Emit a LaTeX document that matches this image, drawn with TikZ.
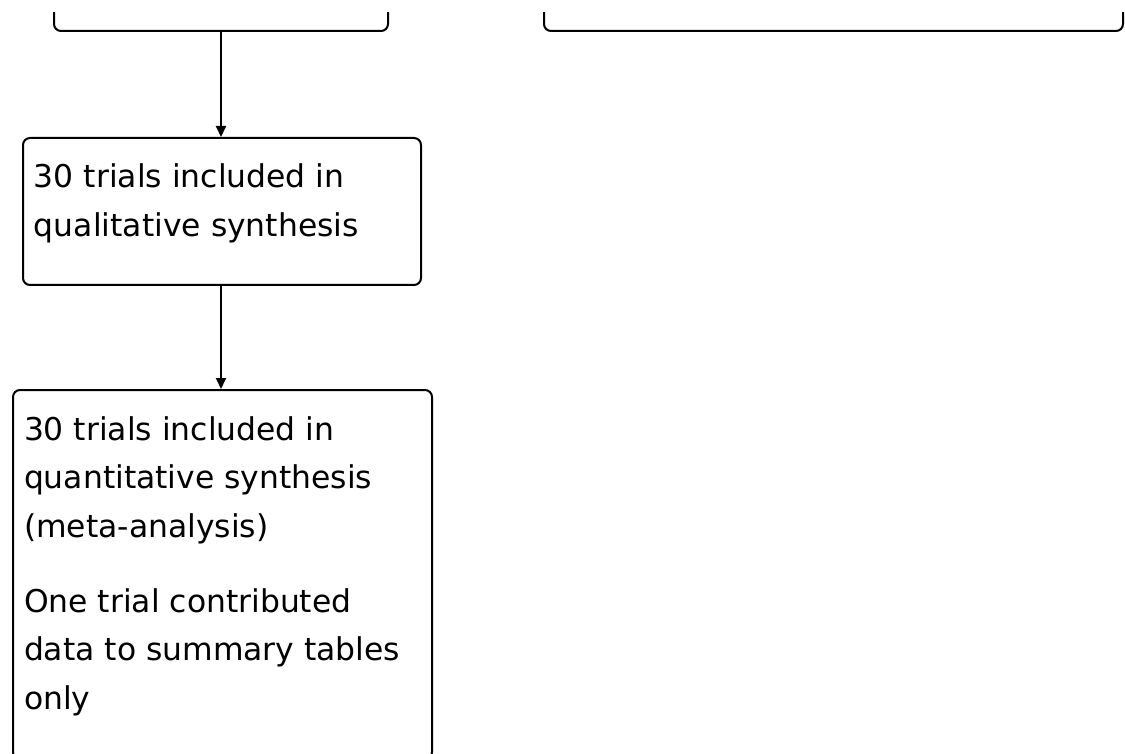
\documentclass[tikz,border=0pt]{standalone}
\usepackage{fontspec}
\setmainfont{DejaVu Sans}
\usetikzlibrary{arrows.meta}
\newcommand\boxtxt[4]{\begin{minipage}[t][#1][t]{#2}\fontsize{31.4pt}{48.5pt}\selectfont\leftskip=#3\parindent=0pt\rule{0pt}{50pt}#4\end{minipage}}
\tikzset{
  box/.style={draw=black, line width=2pt, rounded corners=7pt, inner sep=0pt, fill=white},
  arr/.style={draw=black, line width=2pt, -{Triangle[width=10pt,length=11pt]}}
}
\begin{document}
\begin{tikzpicture}[x=1pt,y=-1pt]
\useasboundingbox (0,0) rectangle (1125,754);
\begin{scope}
\clip (0,13) rectangle (1125,754);
\node[box, minimum width=334pt, minimum height=100pt, anchor=south west] (top1) at (53,32) {};
\node[box, minimum width=579pt, minimum height=100pt, anchor=south west] (top2) at (543,32) {};
\node[box, anchor=north west] (qual) at (22,137) {\boxtxt{147pt}{398pt}{11pt}{30 trials included in\\qualitative synthesis}};
\node[box, anchor=north west] (quant) at (12,389) {\boxtxt{369pt}{419pt}{11pt}{30 trials included in\\quantitative synthesis\\(meta-analysis)\par\vspace{26.5pt}One trial contributed\\data to summary tables\\only}};
\end{scope}
\draw[arr] (top1.south -| 221,0) -- (qual.north -| 221,0);
\draw[arr] (qual.south -| 221,0) -- (quant.north -| 221,0);
\end{tikzpicture}
\end{document}
